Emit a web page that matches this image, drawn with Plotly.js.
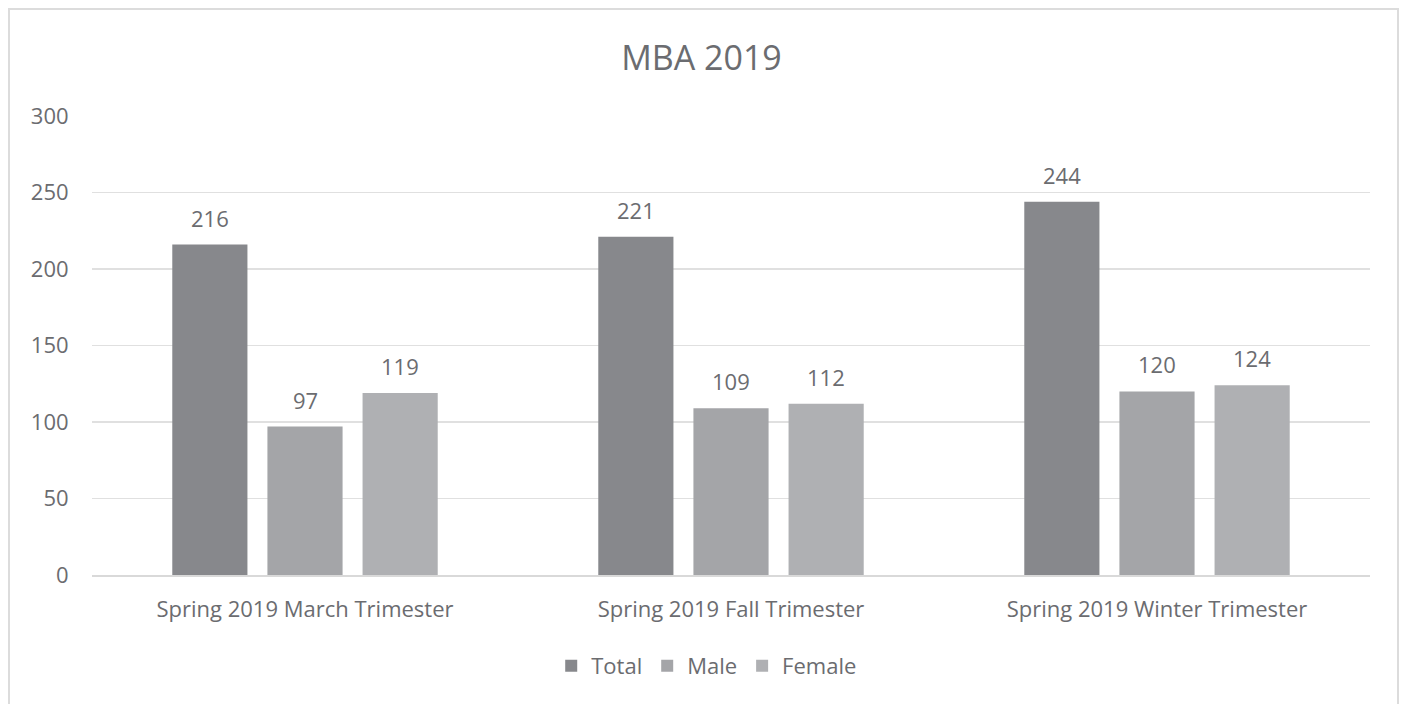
<!DOCTYPE html>
<html>
<head>
<meta charset="utf-8">
<script src="https://cdn.plot.ly/plotly-3.0.1.min.js"></script>
<style>
  html, body { margin: 0; padding: 0; background: #ffffff; }
  #frame { position: absolute; left: 8px; top: 8px; width: 1387px; height: 720px; border: 2px solid #dcdcdc; }
  #chart { position: absolute; left: 0; top: 0; width: 1403px; height: 704px; }
</style>
</head>
<body>
<div id="frame"></div>
<div id="chart"></div>
<script>
const categories = ["Spring 2019 March Trimester", "Spring 2019 Fall Trimester", "Spring 2019 Winter Trimester"];
const seriesNames = ["Total", "Male", "Female"];
const totalValues = [216, 221, 244];
const maleValues = [97, 109, 120];
const femaleValues = [119, 112, 124];
const seriesColors = ["#87888c", "#a4a5a8", "#afb0b3"];
const yTicks = [0, 50, 100, 150, 200, 250, 300];

const allValues = [totalValues, maleValues, femaleValues];
const textColor = "#6b6c70";
const fontFamily = "Open Sans, Noto Sans, sans-serif";
const bargap = 0.33;
const nSeries = seriesNames.length;
const slot = (1 - bargap) / nSeries;

const traces = seriesNames.map((name, i) => ({
  type: "bar",
  name: name,
  x: categories,
  y: allValues[i],
  marker: { color: seriesColors[i] },
  hoverinfo: "x+y+name"
}));

// data labels above each bar, placed on the axes' own scales
const annotations = [];
seriesNames.forEach((name, i) => {
  allValues[i].forEach((v, c) => {
    annotations.push({
      xref: "x", yref: "y",
      x: c + (i - (nSeries - 1) / 2) * slot,
      y: v,
      yshift: 27,
      text: String(v),
      showarrow: false,
      font: { family: fontFamily, size: 22, color: textColor }
    });
  });
});

const layout = {
  width: 1403,
  height: 704,
  paper_bgcolor: "rgba(0,0,0,0)",
  plot_bgcolor: "rgba(0,0,0,0)",
  margin: { l: 92, r: 33, t: 116, b: 129 },
  title: {
    text: "MBA 2019",
    font: { family: fontFamily, size: 34, color: textColor },
    x: 0.5, xanchor: "center",
    y: 0.918, yanchor: "middle"
  },
  barmode: "group",
  bargap: bargap,
  bargroupgap: 0.21,
  showlegend: true,
  legend: {
    orientation: "h",
    x: 0.481, xanchor: "center",
    y: -0.198, yanchor: "middle",
    font: { family: fontFamily, size: 22, color: textColor },
    itemwidth: 30,
    traceorder: "normal"
  },
  annotations: annotations,
  xaxis: {
    type: "category",
    tickfont: { family: fontFamily, size: 22, color: textColor },
    showgrid: false,
    showline: true,
    linecolor: "#d9d9d9",
    linewidth: 1.5,
    ticks: "outside",
    ticklen: 14,
    tickcolor: "rgba(0,0,0,0)"
  },
  yaxis: {
    range: [0, 300],
    tickvals: yTicks,
    ticktext: yTicks.map(String),
    tickfont: { family: fontFamily, size: 22, color: textColor },
    showgrid: true,
    gridcolor: "#e0e0e0",
    gridwidth: 1.5,
    zeroline: false,
    showline: false,
    ticks: "outside",
    ticklen: 18,
    tickcolor: "rgba(0,0,0,0)"
  },
  font: { family: fontFamily, color: textColor }
};

Plotly.newPlot("chart", traces, layout, { displayModeBar: false, staticPlot: true });
</script>
</body>
</html>
